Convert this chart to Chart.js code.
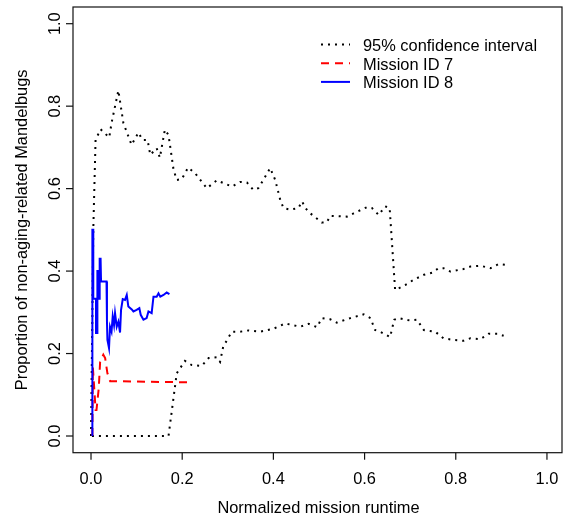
<!DOCTYPE html>
<html>
<head>
<meta charset="utf-8">
<script src="https://cdn.jsdelivr.net/npm/chart.js@4"></script>
<style>
html,body{margin:0;padding:0;background:#fff;}
#wrap{width:566px;height:518px;}
</style>
</head>
<body>
<div id="wrap"><canvas id="c" width="566" height="518"></canvas></div>
<script>
// ---- data ----
const xTicks = [0, 0.2, 0.4, 0.6, 0.8, 1.0];
const yTicks = [0, 0.2, 0.4, 0.6, 0.8, 1.0];
const tickLabels = ['0.0', '0.2', '0.4', '0.6', '0.8', '1.0'];
const seriesNames = ['95% confidence interval', 'Mission ID 7', 'Mission ID 8'];

const upperX = [0.000,0.005,0.010,0.021,0.040,0.045,0.060,0.071,0.089,0.104,0.113,0.124,0.130,0.144,0.151,0.162,0.170,0.181,0.188,0.199,0.213,0.228,0.254,0.276,0.309,0.327,0.342,0.356,0.367,0.378,0.393,0.404,0.415,0.422,0.437,0.455,0.463,0.470,0.481,0.506,0.517,0.525,0.561,0.576,0.605,0.616,0.631,0.645,0.655,0.667,0.671,0.689,0.708,0.730,0.748,0.762,0.773,0.788,0.817,0.832,0.854,0.876,0.894,0.909];
const upperY = [0.000,0.500,0.718,0.744,0.724,0.759,0.838,0.759,0.706,0.736,0.718,0.718,0.682,0.698,0.675,0.743,0.730,0.646,0.621,0.623,0.651,0.638,0.601,0.620,0.605,0.616,0.615,0.597,0.601,0.621,0.650,0.621,0.573,0.553,0.549,0.553,0.569,0.553,0.540,0.518,0.518,0.534,0.532,0.540,0.555,0.553,0.536,0.557,0.553,0.354,0.356,0.366,0.379,0.391,0.396,0.407,0.407,0.399,0.405,0.411,0.413,0.407,0.417,0.415];

const lowerX = [0.002,0.170,0.188,0.206,0.221,0.243,0.258,0.276,0.283,0.290,0.309,0.327,0.345,0.371,0.400,0.426,0.459,0.477,0.496,0.506,0.525,0.539,0.569,0.598,0.613,0.623,0.634,0.656,0.665,0.675,0.700,0.715,0.730,0.755,0.773,0.795,0.817,0.832,0.854,0.872,0.891,0.905];
const lowerY = [0.000,0.000,0.152,0.182,0.172,0.170,0.189,0.191,0.180,0.217,0.253,0.253,0.256,0.253,0.260,0.273,0.265,0.272,0.264,0.286,0.283,0.275,0.286,0.295,0.286,0.257,0.253,0.240,0.282,0.286,0.280,0.282,0.257,0.253,0.237,0.233,0.231,0.237,0.235,0.248,0.248,0.243];

const m7X = [0.003,0.004,0.008,0.010,0.012,0.017,0.020,0.027,0.031,0.036,0.042,0.223];
const m7Y = [0.000,0.168,0.100,0.063,0.063,0.116,0.180,0.197,0.189,0.152,0.133,0.130];

const m8X = [0.003,0.003,0.005,0.005,0.011,0.011,0.014,0.014,0.016,0.016,0.019,0.019,0.021,0.022,0.034,0.035,0.036,0.0395,0.0417,0.045,0.0476,0.0505,0.0527,0.0564,0.060,0.0637,0.0659,0.0696,0.0746,0.0784,0.0819,0.0894,0.093,0.100,0.106,0.109,0.115,0.122,0.126,0.133,0.137,0.144,0.148,0.152,0.159,0.166,0.172];
const m8Y = [0.000,0.500,0.500,0.333,0.333,0.250,0.250,0.400,0.400,0.333,0.333,0.430,0.430,0.375,0.375,0.277,0.233,0.213,0.265,0.253,0.290,0.269,0.298,0.265,0.277,0.251,0.306,0.332,0.330,0.342,0.314,0.307,0.302,0.306,0.310,0.294,0.282,0.286,0.302,0.298,0.338,0.338,0.346,0.338,0.342,0.348,0.344];

const pts = (xs, ys) => xs.map((v, i) => ({x: v, y: ys[i]}));

const FONT = '16.4px "Liberation Sans", Arial, sans-serif';

const styles = [
  {color: '#000000', dash: [2, 5], width: 2},
  {color: '#ff0000', dash: [8, 6], width: 2},
  {color: '#0000ff', dash: [], width: 2}
];

const chrome = {
  id: 'rchrome',
  afterDraw(chart) {
    const {ctx, chartArea: a, scales: {x, y}} = chart;
    ctx.save();
    ctx.strokeStyle = '#111';
    ctx.lineWidth = 1.2;
    ctx.setLineDash([]);
    ctx.strokeRect(a.left, a.top, a.right - a.left, a.bottom - a.top);
    ctx.fillStyle = '#000';
    ctx.font = FONT;
    // x ticks
    ctx.textAlign = 'center';
    ctx.textBaseline = 'alphabetic';
    xTicks.forEach((v, i) => {
      const px = x.getPixelForValue(v);
      ctx.beginPath(); ctx.moveTo(px, a.bottom); ctx.lineTo(px, a.bottom + 7); ctx.stroke();
      ctx.fillText(tickLabels[i], px, a.bottom + 31);
    });
    // y ticks
    yTicks.forEach((v, i) => {
      const py = y.getPixelForValue(v);
      ctx.beginPath(); ctx.moveTo(a.left - 7, py); ctx.lineTo(a.left, py); ctx.stroke();
      ctx.save();
      ctx.translate(a.left - 13.5, py);
      ctx.rotate(-Math.PI / 2);
      ctx.fillText(tickLabels[i], 0, 0);
      ctx.restore();
    });
    // titles
    ctx.fillText('Normalized mission runtime', (a.left + a.right) / 2 + 1, 513);
    ctx.save();
    ctx.translate(26.5, (a.top + a.bottom) / 2);
    ctx.rotate(-Math.PI / 2);
    ctx.fillText('Proportion of non-aging-related Mandelbugs', 0, 0);
    ctx.restore();
    // legend
    const lineY = [44.5, 63.2, 81.9];
    const textY = [50.8, 69.5, 88.2];
    ctx.textAlign = 'left';
    seriesNames.forEach((name, i) => {
      const s = styles[i];
      ctx.save();
      ctx.strokeStyle = s.color;
      ctx.lineWidth = s.width;
      ctx.setLineDash(s.dash);
      ctx.beginPath(); ctx.moveTo(321, lineY[i]); ctx.lineTo(350, lineY[i]); ctx.stroke();
      ctx.restore();
      ctx.fillText(name, 363, textY[i]);
    });
    ctx.restore();
  }
};

const mk = (label, data, s) => ({
  label, data,
  borderColor: s.color, borderWidth: s.width, borderDash: s.dash,
  pointRadius: 0, tension: 0, fill: false, borderCapStyle: 'butt', borderJoinStyle: 'miter'
});

new Chart(document.getElementById('c'), {
  type: 'line',
  data: {
    datasets: [
      mk(seriesNames[2], pts(m8X, m8Y), styles[2]),
      mk(seriesNames[1], pts(m7X, m7Y), styles[1]),
      mk(seriesNames[0], pts(upperX, upperY), styles[0]),
      mk(seriesNames[0] + ' (lower)', pts(lowerX, lowerY), styles[0])
    ]
  },
  options: {
    responsive: false,
    animation: false,
    devicePixelRatio: 1,
    layout: {padding: {left: 0, right: 4, top: 7, bottom: 0}},
    plugins: {legend: {display: false}, tooltip: {enabled: false}},
    scales: {
      x: {
        type: 'linear', min: -0.0395, max: 1.033,
        grid: {display: false}, border: {display: false},
        ticks: {display: false},
        afterFit(s) { s.height = 65.3; }
      },
      y: {
        type: 'linear', min: -0.0405, max: 1.0405,
        grid: {display: false}, border: {display: false},
        ticks: {display: false},
        afterFit(s) { s.width = 73; }
      }
    }
  },
  plugins: [chrome]
});
</script>
</body>
</html>
